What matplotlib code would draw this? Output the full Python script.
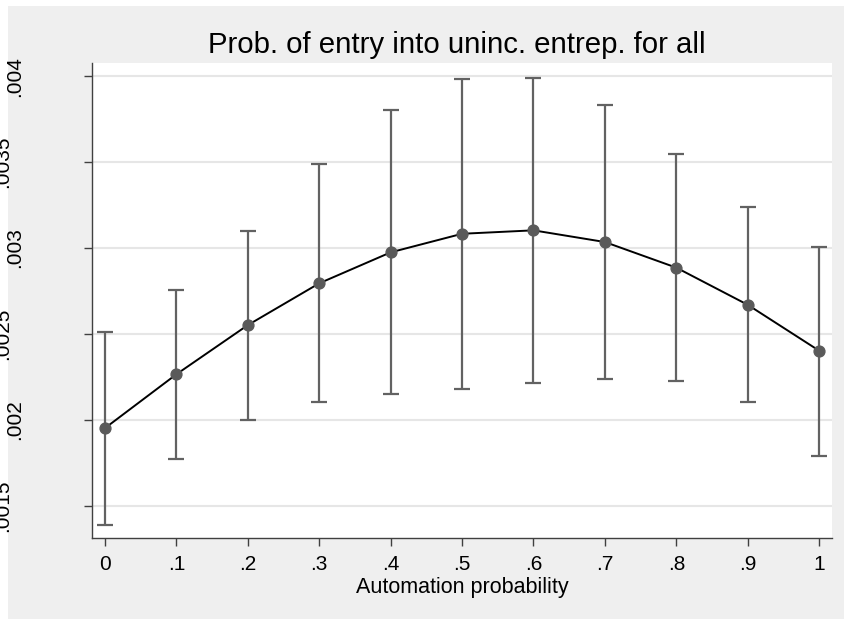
import matplotlib
matplotlib.use('Agg')
import matplotlib.pyplot as plt
import matplotlib.patches as mpatches
import matplotlib.transforms as mtransforms

# Valores (margens por probabilidade de automação)
automacao = [0, .1, .2, .3, .4, .5, .6, .7, .8, .9, 1]
prob_entrada = [.001953, .002266, .002552, .002795, .002975, .003083, .003103, .003035, .002886, .002670, .002403]
ic_inferior = [.001391, .001775, .002000, .002105, .002151, .002182, .002213, .002240, .002228, .002105, .001792]
ic_superior = [.002512, .002756, .003099, .003487, .003802, .003983, .003988, .003830, .003545, .003237, .003008]

xticks = [0, .1, .2, .3, .4, .5, .6, .7, .8, .9, 1]
xlabels = ['0', '.1', '.2', '.3', '.4', '.5', '.6', '.7', '.8', '.9', '1']
yticks = [.0015, .002, .0025, .003, .0035, .004]
ylabels = ['.0015', '.002', '.0025', '.003', '.0035', '.004']

titulo = 'Prob. of entry into uninc. entrep. for all'
rotulo_x = 'Automation probability'

plt.rcParams['font.family'] = ['Liberation Sans', 'DejaVu Sans']

W, H = 844, 619
fig = plt.figure(figsize=(W / 100, H / 100), dpi=100, facecolor='white')

# fundo cinza da região do gráfico
fig.patches.append(mpatches.Rectangle((8 / W, 0), 1, (H - 6) / H, transform=fig.transFigure,
                                      facecolor='#efefef', edgecolor='none', zorder=-5))

ax = fig.add_axes([92 / W, (H - 538) / H, (832 - 92) / W, (538 - 63) / H])
ax.set_facecolor('white')

# barras de erro
erro_baixo = [p - l for p, l in zip(prob_entrada, ic_inferior)]
erro_cima = [u - p for p, u in zip(prob_entrada, ic_superior)]
ax.errorbar(automacao, prob_entrada, yerr=[erro_baixo, erro_cima], fmt='none',
            ecolor='#626262', elinewidth=1.6, capsize=5.5, capthick=1.6, zorder=2)
ax.plot(automacao, prob_entrada, color='black', linewidth=1.4, zorder=3)
ax.plot(automacao, prob_entrada, 'o', color='#5a5a5a', markersize=7.8, zorder=4)

ax.set_xlim(-0.0182, 1.018)
ax.set_ylim(.001314, .004076)

ax.set_xticks(xticks)
ax.set_xticklabels(xlabels, fontsize=15)
ax.set_yticks(yticks)
ax.set_yticklabels([])
ax.tick_params(axis='both', direction='out', length=6, width=1, color='#404040')
ax.tick_params(axis='x', pad=6.5)

ax.grid(axis='y', color='#e6e6e6', linewidth=1.5)
ax.set_axisbelow(True)
for lado in ['top', 'right']:
    ax.spines[lado].set_visible(False)
for lado in ['left', 'bottom']:
    ax.spines[lado].set_color('#404040')
    ax.spines[lado].set_linewidth(1)

# rótulos do eixo y alternados (Stata "alternate"), os de fora ficam cortados na borda
trans = mtransforms.blended_transform_factory(fig.transFigure, ax.transData)
for i, (yv, lab) in enumerate(zip(yticks, ylabels)):
    xpix = 15 if i % 2 == 1 else 3
    ax.text(xpix / W, yv, lab, transform=trans, rotation=90, ha='center', va='center',
            fontsize=15, clip_on=False)

ax.set_xlabel(rotulo_x, fontsize=15.5, labelpad=2)
fig.text(456.5 / W, (H - 53) / H, titulo, ha='center', va='baseline', fontsize=21.2)

fig.savefig('out.png', dpi=100, facecolor=fig.get_facecolor())
